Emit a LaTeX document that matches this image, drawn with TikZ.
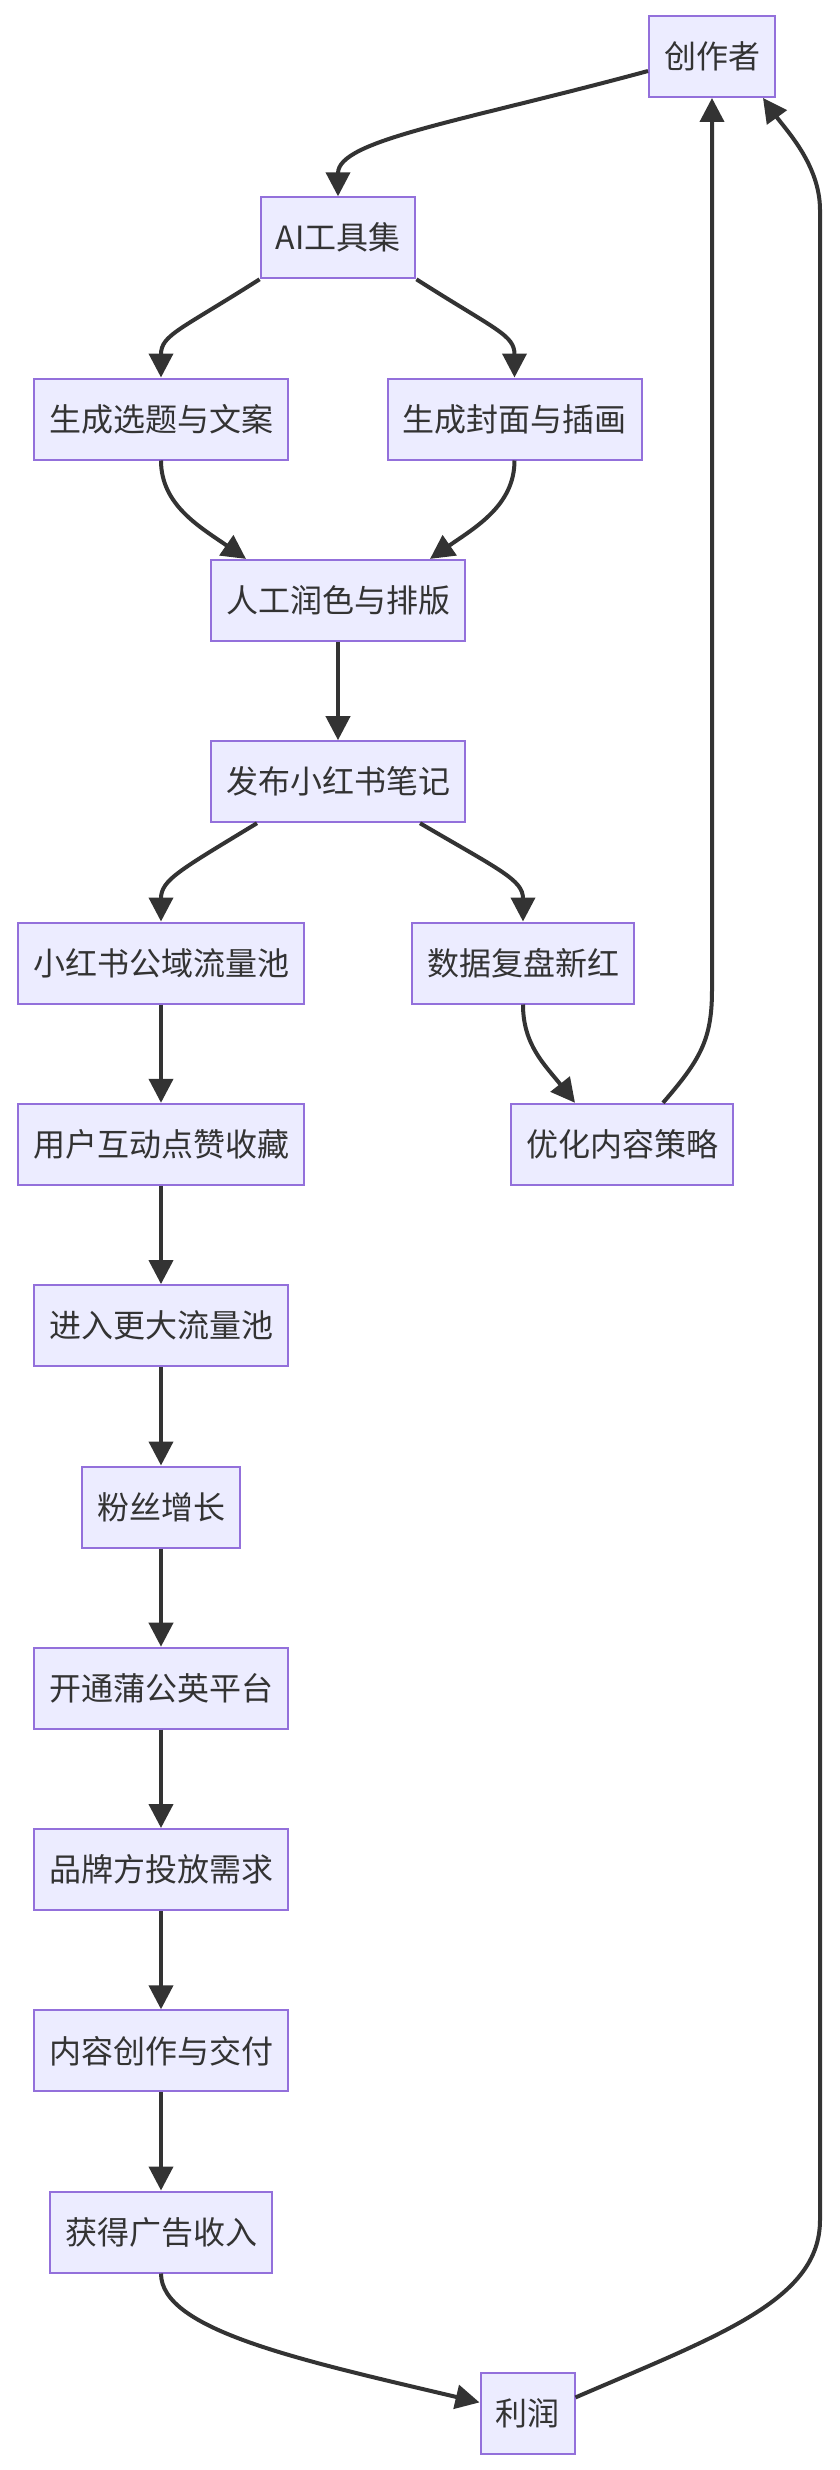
\documentclass[tikz,border=0pt]{standalone}
\usepackage{fontspec}
\newfontfamily\cjk{Noto Sans CJK SC}
\usetikzlibrary{arrows.meta}
\definecolor{nodefill}{HTML}{ECECFF}
\definecolor{nodeline}{HTML}{9370DB}
\definecolor{edgecol}{HTML}{333333}
\tikzset{
  box/.style={draw=nodeline, fill=nodefill, line width=2pt, inner xsep=15pt, inner ysep=0pt,
    minimum height=81pt, text=edgecol, font=\cjk\fontsize{32}{38}\selectfont},
  link/.style={draw=edgecol, line width=4pt, -{Triangle[length=24pt,width=24pt]}}
}
\begin{document}
\begin{tikzpicture}[x=1pt,y=-1pt]
\useasboundingbox[fill=white] (0,0) rectangle (840,2470);
\node[box] (n1) at (712,56.5) {创作者};
\node[box] (n2) at (338,237.8) {AI工具集};
\node[box] (n3) at (161,419) {生成选题与文案};
\node[box] (n4) at (514.5,419) {生成封面与插画};
\node[box] (n5) at (338,600.4) {人工润色与排版};
\node[box] (n6) at (338,781.7) {发布小红书笔记};
\node[box] (n7) at (161,963) {小红书公域流量池};
\node[box] (n8) at (523,963) {数据复盘新红};
\node[box] (n9) at (161,1144.3) {用户互动点赞收藏};
\node[box] (n10) at (622,1144.3) {优化内容策略};
\node[box] (n11) at (161,1325.6) {进入更大流量池};
\node[box] (n12) at (161,1507) {粉丝增长};
\node[box] (n13) at (161,1688.2) {开通蒲公英平台};
\node[box] (n14) at (161,1869.5) {品牌方投放需求};
\node[box] (n15) at (161,2050.8) {内容创作与交付};
\node[box] (n16) at (161,2232) {获得广告收入};
\node[box] (n17) at (527.5,2413.4) {利润};

\draw[link] ([yshift=-14.5pt]n1.west) .. controls (460,122) and (338,140) .. (n2.north);
\draw[link] (n2.south west) .. controls (180,330) and (161,335) .. (n3.north);
\draw[link] (n2.south east) .. controls (496,330) and (514.5,335) .. (n4.north);
\draw[link] (n3.south) .. controls (161,505) and (200,527) .. ([xshift=-92pt]n5.north);
\draw[link] (n4.south) .. controls (514.5,505) and (476,527) .. ([xshift=92pt]n5.north);
\draw[link] (n5.south) -- (n6.north);
\draw[link] ([xshift=-81pt]n6.south) .. controls (180,870) and (161,880) .. (n7.north);
\draw[link] ([xshift=82pt]n6.south) .. controls (500,870) and (523,880) .. (n8.north);
\draw[link] (n7.south) -- (n9.north);
\draw[link] (n8.south) .. controls (523,1045) and (545,1065) .. ([xshift=-47pt]n10.north);
\draw[link] ([xshift=41pt]n10.north) .. controls (700,1060) and (712,1040) .. (712,990) -- (n1.south);
\draw[link] (n9.south) -- (n11.north);
\draw[link] (n11.south) -- (n12.north);
\draw[link] (n12.south) -- (n13.north);
\draw[link] (n13.south) -- (n14.north);
\draw[link] (n14.south) -- (n15.north);
\draw[link] (n15.south) -- (n16.north);
\draw[link] (n16.south) .. controls (161,2330) and (300,2360) .. ([yshift=11pt]n17.west);
\draw[link] ([yshift=16pt]n17.east) .. controls (720,2335) and (820,2300) .. (820,2220) -- (820,210) .. controls (820,165) and (786,130) .. ([xshift=51pt]n1.south);
\end{tikzpicture}
\end{document}
